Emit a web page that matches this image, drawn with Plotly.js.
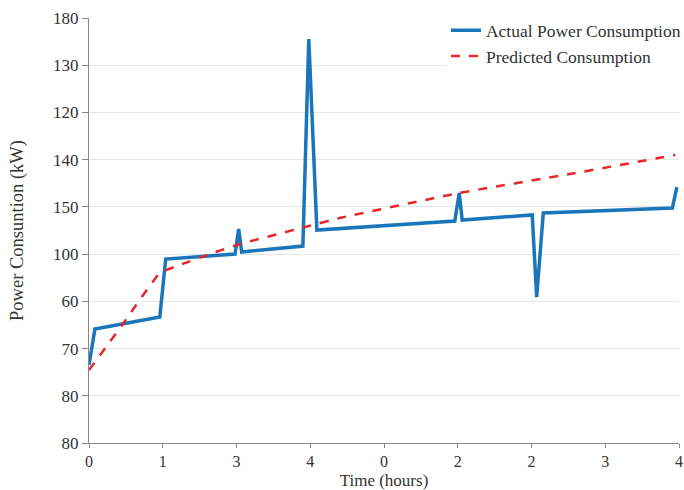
<!DOCTYPE html>
<html>
<head>
<meta charset="utf-8">
<script src="https://cdn.plot.ly/plotly-3.0.1.min.js"></script>
<style>html,body{margin:0;padding:0;background:#fff;}#chart{width:684px;height:490px;}</style>
</head>
<body>
<div id="chart"></div>
<script>
// Tick positions (internal scale) and their printed labels as shown in the reference
const xTickVals = [0, 1, 2, 3, 4, 5, 6, 7, 8];
const xTickText = ["0", "1", "3", "4", "0", "2", "2", "3", "4"];
const yTickVals = [0, 20, 40, 60, 80, 100, 120, 140, 160, 180];
const yTickText = ["80", "80", "70", "60", "100", "150", "140", "120", "130", "180"];

// Actual power consumption (internal scale)
const actualX = [0, 0.08, 0.96, 1.04, 1.98, 2.03, 2.07, 2.9, 2.98, 3.09, 4.96, 5.02, 5.06, 6.01, 6.07, 6.16, 7.91, 7.97];
const actualY = [33, 48.3, 53.4, 77.9, 80.0, 90.6, 80.9, 83.4, 171.1, 90.2, 94.0, 105.9, 94.4, 96.6, 61.8, 97.4, 99.5, 108.4];

// Predicted consumption (internal scale)
const predX = [0, 0.42, 0.96, 1.23, 1.68, 2.05, 2.98, 3.40, 5.02, 6.52, 7.95];
const predY = [30.9, 48.7, 72.0, 75.4, 80.5, 84.3, 91.9, 95.3, 105.9, 113.9, 122.0];

const font = "Liberation Serif, 'DejaVu Serif', serif";

const traces = [
  {
    x: actualX, y: actualY, type: "scatter", mode: "lines",
    name: "Actual Power Consumption",
    line: {color: "#1b75bb", width: 3.5}
  },
  {
    x: predX, y: predY, type: "scatter", mode: "lines",
    name: "Predicted Consumption",
    line: {color: "#e8262a", width: 2.5, dash: "dash", shape: "spline", smoothing: 0.3}
  }
];

const layout = {
  width: 684, height: 490,
  margin: {l: 89, r: 5, t: 18, b: 47, autoexpand: false},
  paper_bgcolor: "#fff", plot_bgcolor: "#fff",
  font: {family: font, size: 17, color: "#333"},
  showlegend: true,
  legend: {
    xref: "container", yref: "container",
    x: 0.652, y: 0.975, xanchor: "left", yanchor: "top",
    bgcolor: "#fff", borderwidth: 0,
    font: {family: font, size: 17.5, color: "#333"},
    tracegroupgap: 0
  },
  xaxis: {
    range: [0, 8], tickmode: "array", tickvals: xTickVals, ticktext: xTickText,
    automargin: false,
    showgrid: false, zeroline: false, showline: true, linecolor: "#888", linewidth: 1.2,
    ticks: "outside", ticklen: 4, tickcolor: "#888",
    tickfont: {family: font, size: 16, color: "#333"},
    title: {text: "Time (hours)", font: {family: font, size: 17, color: "#333"}, standoff: 8}
  },
  yaxis: {
    range: [0, 180], tickmode: "array", tickvals: yTickVals, ticktext: yTickText,
    automargin: false,
    showgrid: true, gridcolor: "#e6e6e6", gridwidth: 1, zeroline: false,
    showline: true, linecolor: "#888", linewidth: 1.2,
    ticks: "outside", ticklen: 6, tickcolor: "#888",
    tickfont: {family: font, size: 17, color: "#333"},
    title: {text: "Power Consuntion (kW)", font: {family: font, size: 18.5, color: "#333"}, standoff: 24}
  }
};

Plotly.newPlot("chart", traces, layout, {displayModeBar: false, staticPlot: true});
</script>
</body>
</html>
